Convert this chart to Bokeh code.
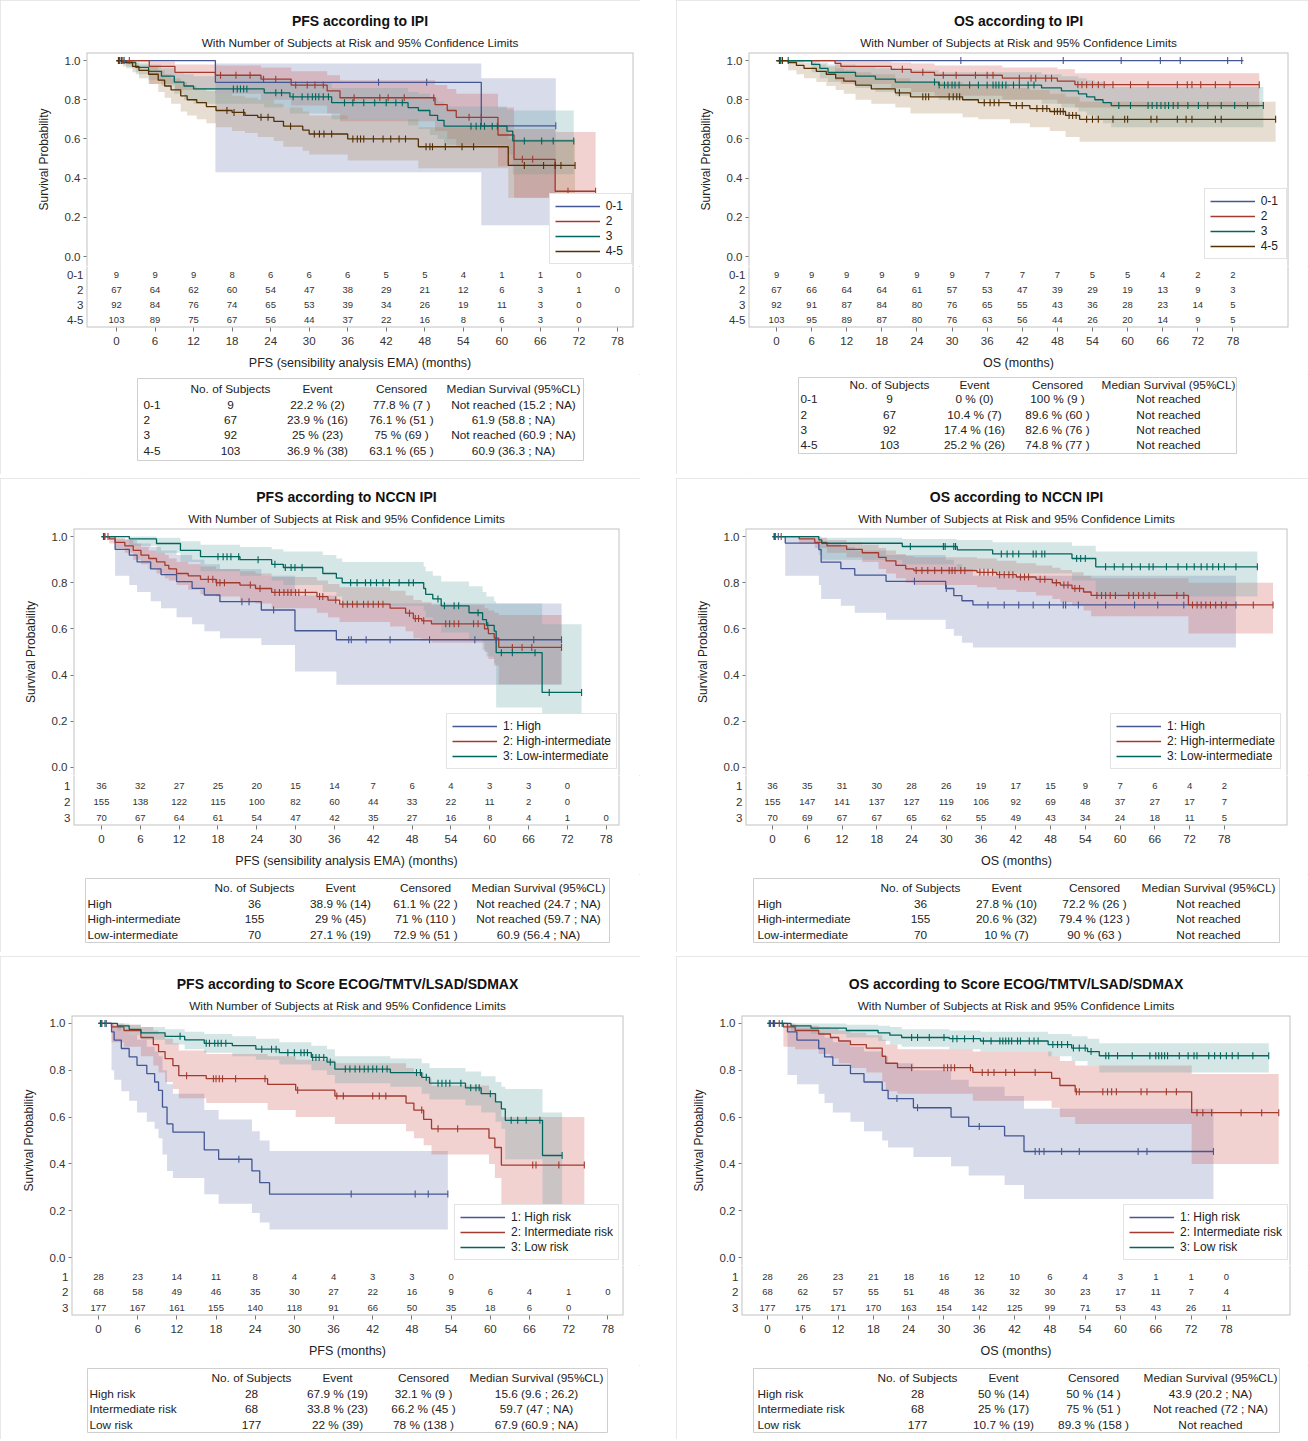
import math
from bokeh.plotting import figure
from bokeh.models import Range1d, FixedTicker, NumeralTickFormatter, Legend, LegendItem, Title
from bokeh.layouts import row, column
from bokeh.embed import file_html
from bokeh.resources import INLINE
from bokeh.core.properties import value

FONT = "Liberation Sans"
TXT = "#333333"
FRAME = "#c2c2c2"
LINE_COLORS = ["#445694", "#A23A2E", "#01665E", "#543005"]
FILL_COLORS = ["#6F7EB3", "#D05B5B", "#66A5A0", "#A9865B"]

RISK_TIMES = [0, 6, 12, 18, 24, 30, 36, 42, 48, 54, 60, 66, 72, 78]
Y_TICKS = [0.0, 0.2, 0.4, 0.6, 0.8, 1.0]
TABLE_HEADER = ["No. of Subjects", "Event", "Censored", "Median Survival (95%CL)"]

# ---------------- Panel 1 : PFS according to IPI ----------------
P1_GROUPS = ["0-1", "2", "3", "4-5"]
P1_G1_T = [0, 15.4, 56.8]
P1_G1_S = [1.0, 0.889, 0.667]
P1_G1_LO = [1.0, 0.43, 0.16]
P1_G1_HI = [1.0, 0.985, 0.91]
P1_G1_END = 68.4
P1_G1_CENS = [0.5, 1.2, 40.8, 48.3, 68.4]
P1_G2_T = [0, 5.1, 9.1, 15.4, 22.5, 27.2, 32.8, 34.8, 49.6, 51.5, 52.9, 59.4, 61.9, 68.3]
P1_G2_S = [1.0, 0.97, 0.94, 0.925, 0.905, 0.875, 0.845, 0.81, 0.775, 0.745, 0.71, 0.62, 0.496, 0.333]
P1_G2_LO = [1.0, 0.88, 0.85, 0.83, 0.80, 0.77, 0.73, 0.69, 0.64, 0.60, 0.56, 0.46, 0.30, 0.07]
P1_G2_HI = [1.0, 0.995, 0.98, 0.975, 0.965, 0.945, 0.925, 0.90, 0.875, 0.855, 0.83, 0.76, 0.65, 0.635]
P1_G2_END = 74.6
P1_G2_CENS = [1.0, 2.0, 16.2, 18.6, 20.8, 22.9, 24.8, 27.9, 29.7, 30.9, 32.2, 37.0, 41.0, 42.3, 44.8, 49.4,
              54.9, 56.8, 63.2, 64.8, 70.3, 74.6]
P1_G3_T = [0, 1.5, 3, 5, 7, 9, 10.5, 12, 23, 27, 33.5, 45.4, 47, 48.8, 50, 51, 60.8, 61.7]
P1_G3_S = [1.0, 0.99, 0.965, 0.945, 0.92, 0.89, 0.87, 0.855, 0.835, 0.815, 0.785, 0.76, 0.745, 0.72, 0.695, 0.665, 0.64, 0.59]
P1_G3_LO = [1.0, 0.96, 0.93, 0.90, 0.87, 0.83, 0.80, 0.78, 0.76, 0.73, 0.70, 0.67, 0.65, 0.62, 0.60, 0.57, 0.52, 0.42]
P1_G3_HI = [1.0, 1.0, 0.99, 0.98, 0.96, 0.94, 0.93, 0.92, 0.90, 0.885, 0.86, 0.84, 0.83, 0.81, 0.79, 0.765, 0.75, 0.745]
P1_G3_END = 71.2
P1_G3_CENS = [0.5, 18.2, 18.8, 19.3, 19.8, 20.3, 24.8, 25.7, 27.5, 28.9, 29.8, 30.5, 31.0, 31.5, 32.2, 33.0,
              35.5, 36.8, 38.5, 40.2, 42.0, 43.5, 44.5, 55.2, 56.0, 56.7, 57.3, 58.5, 59.3, 63.5, 66.2, 68.0, 71.2]
P1_G4_T = [0, 1, 2.5, 3.5, 5, 6.5, 7.5, 8.5, 10, 11, 12.5, 14, 15.5, 18, 20, 22, 24.5, 26, 29, 30, 36, 47, 61]
P1_G4_S = [1.0, 0.99, 0.97, 0.95, 0.93, 0.90, 0.87, 0.85, 0.82, 0.80, 0.785, 0.765, 0.745, 0.735, 0.72, 0.71,
           0.69, 0.665, 0.645, 0.625, 0.60, 0.56, 0.465]
P1_G4_LO = [1.0, 0.97, 0.94, 0.91, 0.88, 0.84, 0.81, 0.78, 0.74, 0.72, 0.70, 0.68, 0.66, 0.64, 0.63, 0.61,
            0.59, 0.56, 0.54, 0.52, 0.49, 0.45, 0.30]
P1_G4_HI = [1.0, 1.0, 0.99, 0.98, 0.97, 0.95, 0.93, 0.91, 0.89, 0.87, 0.86, 0.845, 0.83, 0.82, 0.81, 0.80,
            0.78, 0.76, 0.74, 0.72, 0.70, 0.66, 0.60]
P1_G4_END = 71.4
P1_G4_CENS = [0.3, 0.8, 17.2, 18.3, 19.8, 22.5, 23.6, 27.1, 30.8, 31.6, 32.3, 33.5, 36.8, 37.5, 38.0, 38.5,
              40.0, 41.5, 42.7, 44.0, 45.0, 48.2, 48.8, 49.2, 51.2, 53.8, 55.6, 63.5, 66.5, 68.3, 69.2, 71.4]
P1_RISK_G1 = [9, 9, 9, 8, 6, 6, 6, 5, 5, 4, 1, 1, 0, None]
P1_RISK_G2 = [67, 64, 62, 60, 54, 47, 38, 29, 21, 12, 6, 3, 1, 0]
P1_RISK_G3 = [92, 84, 76, 74, 65, 53, 39, 34, 26, 19, 11, 3, 0, None]
P1_RISK_G4 = [103, 89, 75, 67, 56, 44, 37, 22, 16, 8, 6, 3, 0, None]
P1_TAB_N = [9, 67, 92, 103]
P1_TAB_EVENT = ["22.2 % (2)", "23.9 % (16)", "25 % (23)", "36.9 % (38)"]
P1_TAB_CENS = ["77.8 % (7 )", "76.1 % (51 )", "75 % (69 )", "63.1 % (65 )"]
P1_TAB_MED = ["Not reached (15.2 ; NA)", "61.9 (58.8 ; NA)", "Not reached (60.9 ; NA)", "60.9 (36.3 ; NA)"]

# ---------------- Panel 2 : OS according to IPI ----------------
P2_GROUPS = ["0-1", "2", "3", "4-5"]
P2_G1_T = [0]
P2_G1_S = [1.0]
P2_G1_LO = [1.0]
P2_G1_HI = [1.0]
P2_G1_END = 79.8
P2_G1_CENS = [0.5, 31.5, 49.0, 58.9, 65.6, 69.0, 77.1, 79.5]
P2_G2_T = [0, 10, 11, 19.6, 23, 27, 38.6, 48, 51]
P2_G2_S = [1.0, 0.985, 0.97, 0.955, 0.94, 0.925, 0.91, 0.895, 0.877]
P2_G2_LO = [1.0, 0.90, 0.88, 0.86, 0.84, 0.82, 0.80, 0.78, 0.76]
P2_G2_HI = [1.0, 1.0, 0.995, 0.99, 0.985, 0.975, 0.965, 0.955, 0.935]
P2_G2_END = 82.5
P2_G2_CENS = [1.0, 21.5, 25.0, 28.5, 30.7, 34.0, 36.0, 37.0, 41.5, 43.5, 44.3, 46.0, 47.0, 51.5, 52.2, 53.0,
              54.0, 55.0, 56.0, 57.5, 60.5, 63.5, 68.5, 70.2, 71.0, 72.5, 75.0, 77.5, 82.5]
P2_G3_T = [0, 6, 7.4, 8.8, 13.5, 16.9, 20.3, 27.7, 45.3, 48.7, 51.6, 53, 54.4, 55.8, 57.2]
P2_G3_S = [1.0, 0.98, 0.96, 0.94, 0.92, 0.905, 0.89, 0.875, 0.86, 0.845, 0.83, 0.815, 0.80, 0.785, 0.77]
P2_G3_LO = [1.0, 0.94, 0.91, 0.89, 0.86, 0.84, 0.82, 0.80, 0.78, 0.76, 0.74, 0.72, 0.70, 0.68, 0.66]
P2_G3_HI = [1.0, 1.0, 0.99, 0.98, 0.97, 0.96, 0.95, 0.94, 0.93, 0.92, 0.91, 0.90, 0.89, 0.875, 0.865]
P2_G3_END = 83.2
P2_G3_CENS = [0.7, 2.0, 27.0, 27.8, 28.7, 29.3, 30.0, 30.5, 31.2, 33.0, 34.5, 36.0, 37.0, 37.5, 38.0, 38.6,
              39.2, 40.5, 41.5, 43.0, 44.0, 58.5, 60.5, 63.5, 64.2, 65.0, 65.7, 66.4, 67.0, 67.8, 68.6, 70.3,
              72.1, 73.7, 76.0, 78.3, 80.5, 83.2]
P2_G4_T = [0, 2, 3.4, 4.7, 6.8, 8.5, 10.1, 11.5, 13.5, 16.2, 20.3, 22.9, 31.8, 34.5, 39.9, 43.3, 46.7, 49.4, 51.8]
P2_G4_S = [1.0, 0.99, 0.975, 0.96, 0.945, 0.93, 0.91, 0.895, 0.875, 0.855, 0.835, 0.815, 0.80, 0.785, 0.77,
           0.755, 0.74, 0.72, 0.70]
P2_G4_LO = [1.0, 0.95, 0.93, 0.91, 0.89, 0.87, 0.85, 0.83, 0.80, 0.78, 0.76, 0.73, 0.71, 0.70, 0.68, 0.66,
            0.64, 0.61, 0.585]
P2_G4_HI = [1.0, 1.0, 1.0, 0.99, 0.98, 0.97, 0.96, 0.95, 0.94, 0.93, 0.91, 0.89, 0.88, 0.87, 0.86, 0.85,
            0.83, 0.815, 0.79]
P2_G4_END = 85.3
P2_G4_CENS = [0.5, 1.0, 21.0, 25.0, 25.5, 26.0, 29.5, 30.2, 30.8, 31.3, 35.5, 36.5, 37.2, 38.0, 41.0, 42.0,
              44.5, 45.5, 46.2, 47.5, 48.0, 48.5, 49.0, 50.0, 50.6, 51.2, 53.0, 54.0, 55.0, 57.5, 59.5, 60.0,
              64.0, 65.0, 68.5, 70.0, 71.0, 75.0, 76.0, 85.3]
P2_RISK_G1 = [9, 9, 9, 9, 9, 9, 7, 7, 7, 5, 5, 4, 2, 2]
P2_RISK_G2 = [67, 66, 64, 64, 61, 57, 53, 47, 39, 29, 19, 13, 9, 3]
P2_RISK_G3 = [92, 91, 87, 84, 80, 76, 65, 55, 43, 36, 28, 23, 14, 5]
P2_RISK_G4 = [103, 95, 89, 87, 80, 76, 63, 56, 44, 26, 20, 14, 9, 5]
P2_TAB_N = [9, 67, 92, 103]
P2_TAB_EVENT = ["0 % (0)", "10.4 % (7)", "17.4 % (16)", "25.2 % (26)"]
P2_TAB_CENS = ["100 % (9 )", "89.6 % (60 )", "82.6 % (76 )", "74.8 % (77 )"]
P2_TAB_MED = ["Not reached", "Not reached", "Not reached", "Not reached"]

# ---------------- Panel 3 : PFS according to NCCN IPI ----------------
P3_GROUPS = ["1: High", "2: High-intermediate", "3: Low-intermediate"]
P3_ROWLAB = ["1", "2", "3"]
P3_G1_T = [0, 2.1, 4.3, 5.5, 7.6, 9.2, 11.6, 14.0, 15.9, 18.3, 24.7, 29.9, 36.3]
P3_G1_S = [1.0, 0.945, 0.92, 0.89, 0.86, 0.835, 0.805, 0.776, 0.747, 0.718, 0.682, 0.592, 0.553]
P3_G1_LO = [1.0, 0.83, 0.79, 0.76, 0.72, 0.69, 0.65, 0.62, 0.59, 0.56, 0.53, 0.415, 0.358]
P3_G1_HI = [1.0, 0.99, 0.985, 0.97, 0.955, 0.94, 0.92, 0.90, 0.88, 0.86, 0.83, 0.745, 0.71]
P3_G1_END = 71.1
P3_G1_CENS = [0.5, 21.7, 22.8, 26.6, 38.2, 38.6, 40.9, 44.6, 50.7, 57.7, 61.0, 66.8, 71.1]
P3_G2_T = [0, 1.2, 2.1, 3.6, 4.9, 6.1, 7.3, 8.5, 9.8, 10.4, 11.6, 13.4, 15.3, 17.7, 21.4, 23.8, 26.3, 33.3,
           35.0, 36.8, 44.6, 47.0, 48.2, 49.5, 51.0, 59.2, 59.8, 60.7, 61.4]
P3_G2_S = [1.0, 0.99, 0.975, 0.96, 0.94, 0.92, 0.905, 0.89, 0.875, 0.86, 0.84, 0.83, 0.815, 0.80, 0.79, 0.775,
           0.758, 0.74, 0.725, 0.707, 0.69, 0.668, 0.645, 0.635, 0.622, 0.60, 0.58, 0.56, 0.52]
P3_G2_LO = [1.0, 0.97, 0.95, 0.93, 0.90, 0.88, 0.86, 0.84, 0.82, 0.81, 0.79, 0.77, 0.75, 0.74, 0.72, 0.71,
            0.69, 0.67, 0.65, 0.63, 0.61, 0.59, 0.56, 0.55, 0.54, 0.50, 0.47, 0.44, 0.36]
P3_G2_HI = [1.0, 1.0, 0.995, 0.985, 0.97, 0.955, 0.94, 0.93, 0.92, 0.905, 0.89, 0.88, 0.87, 0.86, 0.85, 0.84,
            0.825, 0.81, 0.795, 0.78, 0.765, 0.745, 0.725, 0.715, 0.705, 0.69, 0.68, 0.67, 0.66]
P3_G2_END = 71.1
P3_G2_CENS = [0.5, 1.0, 16.5, 17.2, 17.8, 18.3, 19.0, 23.0, 24.5, 26.8, 27.5, 28.2, 28.8, 29.3, 30.0, 30.5,
              31.5, 33.7, 34.2, 36.2, 37.3, 38.0, 38.8, 39.5, 40.5, 41.2, 42.0, 42.8, 43.5, 47.6, 48.5, 49.0,
              49.8, 53.2, 53.8, 54.5, 55.2, 57.5, 58.2, 63.5, 65.0, 66.5, 71.1]
P3_G3_T = [0, 4.3, 8.5, 12.2, 15.3, 21.4, 26.3, 28.1, 34.2, 36.3, 37.2, 49.8, 50.1, 51.2, 52.5, 56.8, 58.9,
           59.5, 60.7, 61.0, 68.1]
P3_G3_S = [1.0, 0.99, 0.97, 0.94, 0.913, 0.90, 0.88, 0.866, 0.84, 0.82, 0.80, 0.775, 0.75, 0.73, 0.70, 0.67,
           0.64, 0.615, 0.59, 0.497, 0.325]
P3_G3_LO = [1.0, 0.96, 0.93, 0.89, 0.85, 0.83, 0.81, 0.79, 0.76, 0.74, 0.70, 0.68, 0.65, 0.62, 0.585, 0.55,
            0.51, 0.48, 0.45, 0.26, 0.02]
P3_G3_HI = [1.0, 1.0, 0.995, 0.98, 0.965, 0.955, 0.945, 0.935, 0.92, 0.905, 0.89, 0.87, 0.85, 0.83, 0.805,
            0.785, 0.76, 0.74, 0.72, 0.71, 0.62]
P3_G3_END = 74.2
P3_G3_CENS = [0.3, 18.0, 18.8, 19.4, 20.0, 21.2, 24.2, 26.8, 28.4, 29.3, 29.9, 31.0, 38.5, 39.5, 40.8, 41.6,
              42.5, 43.5, 44.5, 46.0, 47.5, 48.2, 52.0, 53.0, 54.5, 55.2, 58.2, 59.7, 61.8, 63.5, 67.0, 69.2, 74.2]
P3_RISK_G1 = [36, 32, 27, 25, 20, 15, 14, 7, 6, 4, 3, 3, 0, None]
P3_RISK_G2 = [155, 138, 122, 115, 100, 82, 60, 44, 33, 22, 11, 2, 0, None]
P3_RISK_G3 = [70, 67, 64, 61, 54, 47, 42, 35, 27, 16, 8, 4, 1, 0]
P3_TAB_LAB = ["High", "High-intermediate", "Low-intermediate"]
P3_TAB_N = [36, 155, 70]
P3_TAB_EVENT = ["38.9 % (14)", "29 % (45)", "27.1 % (19)"]
P3_TAB_CENS = ["61.1 % (22 )", "71 % (110 )", "72.9 % (51 )"]
P3_TAB_MED = ["Not reached (24.7 ; NA)", "Not reached (59.7 ; NA)", "60.9 (56.4 ; NA)"]

# ---------------- Panel 4 : OS according to NCCN IPI ----------------
P4_GROUPS = ["1: High", "2: High-intermediate", "3: Low-intermediate"]
P4_ROWLAB = ["1", "2", "3"]
P4_G1_T = [0, 2.2, 8.0, 8.4, 11.8, 14.2, 19.6, 29.9, 31.3, 32.7, 34.6]
P4_G1_S = [1.0, 0.972, 0.944, 0.889, 0.861, 0.833, 0.806, 0.775, 0.744, 0.722, 0.704]
P4_G1_LO = [1.0, 0.83, 0.79, 0.73, 0.70, 0.67, 0.64, 0.60, 0.57, 0.54, 0.52]
P4_G1_HI = [1.0, 1.0, 0.99, 0.97, 0.955, 0.94, 0.92, 0.90, 0.88, 0.86, 0.83]
P4_G1_END = 80.0
P4_G1_CENS = [0.3, 1.0, 24.5, 30.0, 37.2, 40.0, 42.5, 45.0, 47.8, 50.2, 50.6, 52.8, 57.5, 62.5, 66.5, 71.0, 80.0]
P4_G2_T = [0, 4.6, 7.3, 9.4, 12.8, 15.5, 18.3, 19.6, 21.3, 23.0, 24.4, 35.3, 38.7, 42.1, 45.5, 48.3, 49.7,
           51.7, 53.7, 55.0, 71.8]
P4_G2_S = [1.0, 0.99, 0.975, 0.96, 0.945, 0.93, 0.91, 0.895, 0.875, 0.86, 0.853, 0.845, 0.835, 0.825, 0.815,
           0.80, 0.79, 0.775, 0.76, 0.745, 0.704]
P4_G2_LO = [1.0, 0.97, 0.95, 0.93, 0.91, 0.89, 0.86, 0.84, 0.82, 0.80, 0.79, 0.78, 0.77, 0.76, 0.745, 0.73,
            0.715, 0.70, 0.68, 0.655, 0.58]
P4_G2_HI = [1.0, 1.0, 0.995, 0.985, 0.975, 0.965, 0.95, 0.94, 0.925, 0.915, 0.91, 0.905, 0.895, 0.885, 0.875,
            0.865, 0.855, 0.845, 0.83, 0.82, 0.80]
P4_G2_END = 86.4
P4_G2_CENS = [0.5, 1.5, 24.8, 25.8, 26.8, 28.0, 29.2, 30.5, 31.0, 31.5, 32.5, 33.2, 35.8, 36.5, 37.2, 38.0,
              39.2, 40.0, 40.8, 41.5, 42.8, 43.5, 44.2, 46.2, 47.0, 49.0, 50.3, 51.0, 52.2, 53.0, 56.0, 56.8,
              57.5, 58.3, 59.2, 61.5, 62.3, 63.2, 64.0, 65.0, 66.0, 69.8, 71.0, 72.5, 73.3, 74.0, 74.8, 75.6,
              76.5, 77.5, 78.3, 83.0, 86.4]
P4_G3_T = [0, 8.0, 8.5, 22.4, 31.9, 38.0, 51.7, 55.8]
P4_G3_S = [1.0, 0.986, 0.971, 0.957, 0.942, 0.925, 0.905, 0.869]
P4_G3_LO = [1.0, 0.92, 0.90, 0.88, 0.86, 0.84, 0.81, 0.74]
P4_G3_HI = [1.0, 1.0, 0.995, 0.99, 0.985, 0.975, 0.96, 0.935]
P4_G3_END = 83.7
P4_G3_CENS = [0.3, 23.8, 29.5, 29.8, 31.3, 31.6, 39.5, 40.5, 41.5, 42.5, 45.0, 45.5, 46.5, 47.0, 52.5, 53.2,
              54.0, 57.5, 59.0, 60.5, 62.0, 63.5, 65.0, 65.7, 68.0, 70.0, 71.5, 72.8, 74.0, 75.0, 76.0, 77.0,
              78.0, 80.0, 83.7]
P4_RISK_G1 = [36, 35, 31, 30, 28, 26, 19, 17, 15, 9, 7, 6, 4, 2]
P4_RISK_G2 = [155, 147, 141, 137, 127, 119, 106, 92, 69, 48, 37, 27, 17, 7]
P4_RISK_G3 = [70, 69, 67, 67, 65, 62, 55, 49, 43, 34, 24, 18, 11, 5]
P4_TAB_LAB = ["High", "High-intermediate", "Low-intermediate"]
P4_TAB_N = [36, 155, 70]
P4_TAB_EVENT = ["27.8 % (10)", "20.6 % (32)", "10 % (7)"]
P4_TAB_CENS = ["72.2 % (26 )", "79.4 % (123 )", "90 % (63 )"]
P4_TAB_MED = ["Not reached", "Not reached", "Not reached"]

# ---------------- Panel 5 : PFS according to Score ----------------
P5_GROUPS = ["1: High risk", "2: Intermediate risk", "3: Low risk"]
P5_ROWLAB = ["1", "2", "3"]
P5_G1_T = [0, 2.0, 2.4, 3.5, 4.7, 5.9, 7.4, 8.6, 9.2, 9.8, 10.5, 11.4, 16.2, 18.4, 23.5, 24.7, 26.2]
P5_G1_S = [1.0, 0.964, 0.929, 0.893, 0.857, 0.821, 0.786, 0.75, 0.714, 0.643, 0.571, 0.536, 0.46, 0.42,
           0.37, 0.32, 0.271]
P5_G1_LO = [1.0, 0.80, 0.76, 0.71, 0.67, 0.62, 0.58, 0.55, 0.51, 0.44, 0.37, 0.34, 0.27, 0.23, 0.19, 0.15, 0.12]
P5_G1_HI = [1.0, 1.0, 0.99, 0.97, 0.95, 0.93, 0.90, 0.88, 0.86, 0.80, 0.74, 0.70, 0.63, 0.59, 0.54, 0.50, 0.455]
P5_G1_END = 53.5
P5_G1_CENS = [0.5, 1.2, 21.5, 38.7, 48.5, 50.5, 53.5]
P5_G2_T = [0, 2.0, 3.9, 6.5, 8.4, 9.2, 10.2, 11.4, 12.3, 16.5, 25.9, 30.2, 36.2, 47.1, 48.3, 49.8, 51.0,
           59.8, 60.7, 61.7]
P5_G2_S = [1.0, 0.985, 0.97, 0.94, 0.91, 0.88, 0.85, 0.82, 0.777, 0.764, 0.74, 0.715, 0.69, 0.66, 0.63, 0.59,
           0.55, 0.51, 0.47, 0.395]
P5_G2_LO = [1.0, 0.92, 0.90, 0.86, 0.82, 0.79, 0.75, 0.72, 0.68, 0.66, 0.63, 0.60, 0.57, 0.54, 0.51, 0.48,
            0.44, 0.40, 0.34, 0.19]
P5_G2_HI = [1.0, 1.0, 0.995, 0.985, 0.97, 0.955, 0.935, 0.915, 0.885, 0.87, 0.86, 0.845, 0.83, 0.81, 0.79,
            0.765, 0.735, 0.70, 0.665, 0.60]
P5_G2_END = 74.4
P5_G2_CENS = [0.5, 13.5, 17.6, 18.0, 18.5, 19.0, 21.0, 25.5, 30.5, 36.5, 37.5, 42.0, 43.0, 44.0, 49.5, 52.0,
              55.0, 66.5, 67.0, 70.5, 74.4]
P5_G3_T = [0, 2.9, 4.7, 6.5, 10.2, 13.2, 16.2, 20.5, 24.1, 27.7, 32.6, 35.0, 36.2, 44.7, 49.5, 50.7, 56.2,
           58.6, 60.8, 61.7, 62.3, 68.0]
P5_G3_S = [1.0, 0.99, 0.975, 0.96, 0.945, 0.93, 0.915, 0.905, 0.89, 0.875, 0.855, 0.835, 0.805, 0.79, 0.77,
           0.745, 0.725, 0.70, 0.665, 0.635, 0.586, 0.436]
P5_G3_LO = [1.0, 0.97, 0.95, 0.93, 0.91, 0.89, 0.875, 0.86, 0.845, 0.825, 0.80, 0.78, 0.745, 0.73, 0.70,
            0.675, 0.65, 0.62, 0.58, 0.55, 0.42, 0.20]
P5_G3_HI = [1.0, 1.0, 0.995, 0.985, 0.975, 0.965, 0.955, 0.945, 0.935, 0.92, 0.905, 0.89, 0.86, 0.85, 0.83,
            0.81, 0.795, 0.775, 0.75, 0.73, 0.72, 0.62]
P5_G3_END = 71.0
P5_G3_CENS = [0.3, 1.0, 12.5, 16.5, 17.0, 17.8, 18.3, 18.8, 19.5, 25.0, 26.5, 27.2, 29.0, 30.0, 31.0, 31.5,
              32.0, 32.8, 33.3, 33.8, 34.5, 35.5, 37.8, 38.5, 39.3, 40.0, 40.7, 41.3, 42.0, 42.6, 43.5, 44.2,
              48.7, 49.3, 50.2, 52.0, 52.6, 53.2, 53.8, 55.5, 57.0, 57.8, 58.3, 60.0, 63.2, 64.2, 65.5, 67.6, 71.0]
P5_RISK_G1 = [28, 23, 14, 11, 8, 4, 4, 3, 3, 0, None, None, None, None]
P5_RISK_G2 = [68, 58, 49, 46, 35, 30, 27, 22, 16, 9, 6, 4, 1, 0]
P5_RISK_G3 = [177, 167, 161, 155, 140, 118, 91, 66, 50, 35, 18, 6, 0, None]
P5_TAB_LAB = ["High risk", "Intermediate risk", "Low risk"]
P5_TAB_N = [28, 68, 177]
P5_TAB_EVENT = ["67.9 % (19)", "33.8 % (23)", "22 % (39)"]
P5_TAB_CENS = ["32.1 % (9 )", "66.2 % (45 )", "78 % (138 )"]
P5_TAB_MED = ["15.6 (9.6 ; 26.2)", "59.7 (47 ; NA)", "67.9 (60.9 ; NA)"]

# ---------------- Panel 6 : OS according to Score ----------------
P6_GROUPS = ["1: High risk", "2: Intermediate risk", "3: Low risk"]
P6_ROWLAB = ["1", "2", "3"]
P6_G1_T = [0, 3.4, 5.0, 8.7, 9.7, 11.1, 14.1, 16.4, 19.5, 20.5, 24.8, 31.2, 34.2, 40.3, 43.6]
P6_G1_S = [1.0, 0.964, 0.929, 0.893, 0.857, 0.821, 0.786, 0.75, 0.714, 0.679, 0.64, 0.60, 0.56, 0.52, 0.453]
P6_G1_LO = [1.0, 0.78, 0.74, 0.70, 0.66, 0.62, 0.58, 0.54, 0.50, 0.47, 0.43, 0.39, 0.35, 0.31, 0.25]
P6_G1_HI = [1.0, 0.995, 0.98, 0.96, 0.94, 0.92, 0.90, 0.88, 0.86, 0.83, 0.80, 0.76, 0.73, 0.69, 0.636]
P6_G1_END = 75.8
P6_G1_CENS = [0.5, 1.2, 22.0, 25.5, 36.0, 45.5, 46.2, 47.0, 50.0, 53.0, 63.0, 64.5, 75.8]
P6_G2_T = [0, 2.7, 4.7, 8.7, 10.7, 12.1, 14.1, 16.8, 19.5, 20.1, 22.1, 34.9, 48.3, 49.7, 52.3, 72.1]
P6_G2_S = [1.0, 0.985, 0.97, 0.955, 0.94, 0.925, 0.91, 0.895, 0.86, 0.83, 0.811, 0.791, 0.765, 0.735, 0.708, 0.619]
P6_G2_LO = [1.0, 0.90, 0.89, 0.87, 0.85, 0.83, 0.81, 0.79, 0.75, 0.71, 0.70, 0.67, 0.64, 0.60, 0.57, 0.40]
P6_G2_HI = [1.0, 1.0, 0.99, 0.985, 0.98, 0.97, 0.96, 0.95, 0.93, 0.91, 0.89, 0.88, 0.86, 0.84, 0.82, 0.784]
P6_G2_END = 86.9
P6_G2_CENS = [1.0, 2.0, 24.5, 30.0, 30.6, 31.2, 31.8, 34.5, 36.5, 37.5, 38.5, 40.5, 42.0, 45.5, 52.5, 53.0,
              57.0, 57.8, 58.5, 59.3, 63.5, 64.5, 67.8, 69.5, 73.0, 74.0, 75.5, 80.5, 84.0, 86.9]
P6_G3_T = [0, 4.0, 7.4, 13.4, 18.8, 20.8, 22.8, 30.9, 36.2, 47.7, 51.7, 54.4, 56.4]
P6_G3_S = [1.0, 0.99, 0.98, 0.97, 0.96, 0.95, 0.94, 0.935, 0.925, 0.91, 0.895, 0.88, 0.862]
P6_G3_LO = [1.0, 0.97, 0.955, 0.94, 0.925, 0.91, 0.90, 0.89, 0.88, 0.86, 0.84, 0.82, 0.79]
P6_G3_HI = [1.0, 1.0, 1.0, 0.995, 0.99, 0.985, 0.975, 0.97, 0.965, 0.955, 0.945, 0.935, 0.915]
P6_G3_END = 85.2
P6_G3_CENS = [0.3, 1.0, 2.5, 24.5, 25.5, 27.5, 30.0, 31.5, 32.2, 33.5, 35.0, 36.7, 38.0, 39.5, 40.0, 40.5,
              41.0, 41.5, 42.5, 43.0, 44.5, 45.3, 46.0, 48.5, 49.3, 50.0, 51.0, 52.0, 53.0, 54.0, 55.0, 57.5,
              58.0, 59.5, 62.0, 65.0, 66.0, 66.5, 67.0, 67.5, 68.0, 70.0, 71.5, 72.5, 73.0, 75.0, 76.0, 77.0,
              78.0, 79.0, 80.0, 82.5, 85.2]
P6_RISK_G1 = [28, 26, 23, 21, 18, 16, 12, 10, 6, 4, 3, 1, 1, 0]
P6_RISK_G2 = [68, 62, 57, 55, 51, 48, 36, 32, 30, 23, 17, 11, 7, 4]
P6_RISK_G3 = [177, 175, 171, 170, 163, 154, 142, 125, 99, 71, 53, 43, 26, 11]
P6_TAB_LAB = ["High risk", "Intermediate risk", "Low risk"]
P6_TAB_N = [28, 68, 177]
P6_TAB_EVENT = ["50 % (14)", "25 % (17)", "10.7 % (19)"]
P6_TAB_CENS = ["50 % (14 )", "75 % (51 )", "89.3 % (158 )"]
P6_TAB_MED = ["43.9 (20.2 ; NA)", "Not reached (72 ; NA)", "Not reached"]


def curve(t, s, lo, hi, end, cens):
    return dict(t=t, s=s, lo=lo, hi=hi, end=end, cens=cens)


CHAR_W = {"0": .556, "1": .556, "2": .556, "3": .556, "4": .556, "5": .556, "6": .556, "7": .556, "8": .556,
          "9": .556, ":": .278, " ": .278, "-": .333, "H": .722, "I": .278, "L": .556, "a": .556, "d": .556,
          "e": .556, "g": .556, "h": .556, "i": .222, "k": .5, "m": .833, "n": .556, "o": .556, "r": .333,
          "s": .5, "t": .278, "w": .722}

LEG_FS = 12


def text_w(s, size):
    return sum(CHAR_W.get(ch, 0.55) for ch in s) * size


def step_at(t, s, c):
    v = s[0]
    for ti, si in zip(t, s):
        if ti <= c:
            v = si
    return v


def style_axis_common(ax):
    ax.major_label_text_font = FONT
    ax.major_label_text_font_size = "11.5px"
    ax.major_label_text_color = TXT
    ax.axis_line_color = None
    ax.minor_tick_line_color = None
    ax.major_tick_in = 0


def km_figures(sp):
    W = sp["w"]
    mbl, mbr = sp["mb"]
    x0, x1 = sp["xr"]
    xr = Range1d(x0, x1)
    ytop, ysplit = sp["yr"]
    # ---------- survival curve area ----------
    p = figure(width=W, height=sp["km_h"], x_range=xr, y_range=Range1d(ysplit, ytop),
               output_backend="svg", toolbar_location=None, title=None, x_axis_location=None,
               min_border_left=mbl, min_border_right=mbr, min_border_top=sp["mbt"], min_border_bottom=0,
               outline_line_color=None, background_fill_color="white", border_fill_color="white")
    for g in p.grid:
        g.visible = False
    p.add_layout(Title(text="With Number of Subjects at Risk and 95% Confidence Limits", align="center",
                       text_font=FONT, text_font_size="11.8px", text_font_style="normal",
                       text_color="#222222", standoff=6), "above")
    p.add_layout(Title(text=sp["title"], align="center", text_font=FONT, text_font_size="14px",
                       text_font_style="bold", text_color="#111111", standoff=3), "above")
    ay = p.yaxis[0]
    style_axis_common(ay)
    ay.ticker = FixedTicker(ticks=Y_TICKS)
    ay.formatter = NumeralTickFormatter(format="0.0")
    ay.major_label_standoff = 3
    ay.major_tick_line_color = "#777777"
    ay.major_tick_out = 3
    ay.axis_label = "Survival Probability"
    ay.axis_label_text_font = FONT
    ay.axis_label_text_font_size = "12px"
    ay.axis_label_text_font_style = "normal"
    ay.axis_label_text_color = "#222222"
    ay.axis_label_standoff = 11

    # frame: top, left, right edges (bottom continues into the risk table)
    p.quad(left=[x0], right=[x1], bottom=[ysplit - 1.0], top=[ytop], fill_alpha=0,
           line_color=FRAME, line_width=2)

    curves = sp["curves"]
    for i, c in enumerate(curves):
        xs = c["t"] + [c["end"]]
        p.varea_step(x=xs, y1=c["lo"] + [c["lo"][-1]], y2=c["hi"] + [c["hi"][-1]], step_mode="after",
                     fill_color=FILL_COLORS[i], fill_alpha=0.28)
    line_renderers = []
    for i, c in enumerate(curves):
        xs = c["t"] + [c["end"]]
        r = p.step(x=xs, y=c["s"] + [c["s"][-1]], mode="after", line_color=LINE_COLORS[i], line_width=1.3)
        line_renderers.append(r)
    for i, c in enumerate(curves):
        cy = [step_at(c["t"], c["s"], v) for v in c["cens"]]
        p.scatter(x=c["cens"], y=cy, marker="dash", angle=math.pi / 2, size=7,
                  line_color=LINE_COLORS[i], line_width=1.1)

    glyph_w, pad, stand = 45, 5, 6
    lw = 2 * pad + glyph_w + stand + max(text_w(g, LEG_FS) for g in sp["groups"])
    frame_w = W - mbl - mbr
    frame_h = sp["km_h"] - sp["mbt"]
    lx = frame_w - lw - sp["leg_gap"]
    ly = (sp["leg_bottom"] - ysplit) / (ytop - ysplit) * frame_h
    items = [LegendItem(label=g, renderers=[r]) for g, r in zip(sp["groups"], line_renderers)]
    leg = Legend(items=items, location=(lx, ly), label_text_font=FONT, label_text_font_size=f"{LEG_FS}px",
                 label_text_color="#222222", glyph_width=glyph_w, glyph_height=14, label_height=14,
                 label_standoff=stand, padding=pad, spacing=1, margin=0, border_line_color="#c8c8c8",
                 background_fill_color="white", background_fill_alpha=1.0)
    p.add_layout(leg)

    # ---------- number-at-risk area (same frame, continued) ----------
    nrow = len(sp["risk"])
    hr, d0, ds = sp["risk_frame"]
    v_top = 1 - d0 / ds
    v_bot = 1 + (hr - d0) / ds
    q = figure(width=W, height=hr + sp["mbb"], x_range=xr, y_range=Range1d(v_bot, v_top),
               output_backend="svg", toolbar_location=None, min_border_left=mbl, min_border_right=mbr,
               min_border_top=0, min_border_bottom=sp["mbb"], outline_line_color=None,
               background_fill_color="white", border_fill_color="white")
    for g in q.grid:
        g.visible = False
    q.quad(left=[x0], right=[x1], bottom=[v_bot], top=[v_top - 5.0], fill_alpha=0,
           line_color=FRAME, line_width=2)
    ry = q.yaxis[0]
    style_axis_common(ry)
    ry.ticker = FixedTicker(ticks=list(range(1, nrow + 1)))
    ry.major_label_overrides = {i + 1: lab for i, lab in enumerate(sp["rowlab"])}
    ry.major_tick_out = 0
    ry.major_tick_line_color = None
    ry.major_label_standoff = 3
    for gi, vals in enumerate(sp["risk"]):
        xs = [t for t, v in zip(RISK_TIMES, vals) if v is not None]
        tx = [str(v) for v in vals if v is not None]
        q.text(x=xs, y=[gi + 1] * len(xs), text=tx, text_align="center", text_baseline="middle",
               text_font=value(FONT), text_font_size=value("9.5px"), text_color="#333333")
    ax = q.xaxis[0]
    style_axis_common(ax)
    ax.ticker = FixedTicker(ticks=RISK_TIMES)
    ax.axis_label = sp["xlabel"]
    ax.axis_label_text_font = FONT
    ax.axis_label_text_font_size = "12.5px"
    ax.axis_label_text_font_style = "normal"
    ax.axis_label_text_color = "#222222"
    ax.axis_label_standoff = 8
    ax.major_label_standoff = 5
    ax.major_tick_line_color = "#777777"
    ax.major_tick_out = 4
    return p, q


def table_figure(tb, mb):
    # the layout aligns this frame with the plot frames above it, so the
    # x range is set to the frame's pixel span inside the panel
    W, H = tb["w"], tb["h"]
    mbl, mbr = mb
    t = figure(width=W, height=H, x_range=Range1d(mbl, W - mbr), y_range=Range1d(H, 0), output_backend="svg",
               toolbar_location=None, min_border=0, min_border_left=mbl, min_border_right=mbr,
               x_axis_location=None, y_axis_location=None,
               outline_line_color=None, background_fill_color="white", border_fill_color="white")
    for g in t.grid:
        g.visible = False
    L, R = tb["box"]
    t.quad(left=[L], right=[R], top=[tb["top"]], bottom=[tb["bottom"]], fill_alpha=0,
           line_color="#cfcfcf", line_width=1)
    cx = tb["cols"]
    fnt = dict(text_font=value(FONT), text_font_size=value("11.8px"), text_color="#222222",
               text_baseline="middle")
    t.text(x=cx[1:], y=[tb["header"]] * 4, text=TABLE_HEADER, text_align="center", **fnt)
    ry = tb["rows"]
    t.text(x=[cx[0]] * len(ry), y=ry, text=tb["labels"], text_align="left", **fnt)
    t.text(x=[cx[1]] * len(ry), y=ry, text=[str(v) for v in tb["n"]], text_align="center", **fnt)
    t.text(x=[cx[2]] * len(ry), y=ry, text=tb["event"], text_align="center", **fnt)
    t.text(x=[cx[3]] * len(ry), y=ry, text=tb["cens"], text_align="center", **fnt)
    t.text(x=[cx[4]] * len(ry), y=ry, text=tb["med"], text_align="center", **fnt)
    return t


# row geometry: km_h (titles + curve frame), mbt, y range (top, split), risk frame (height, first row, spacing), mbb
ROW1 = dict(km_h=266, mbt=52, yr=(1.041, -0.051), risk_frame=(61, 8, 15.2), mbb=47)
ROW2 = dict(km_h=297, mbt=50, yr=(1.035, -0.035), risk_frame=(50, 10, 16.0), mbb=49)
ROW3 = dict(km_h=309, mbt=59, yr=(1.034, -0.034), risk_frame=(50, 11, 15.5), mbb=50)

WL, WR = 640, 632

specs = [
    dict(title="PFS according to IPI", xlabel="PFS (sensibility analysis EMA) (months)", w=WL,
         mb=(86, 7), xr=(-4.67, 80.5), groups=P1_GROUPS, rowlab=P1_GROUPS,
         curves=[curve(P1_G1_T, P1_G1_S, P1_G1_LO, P1_G1_HI, P1_G1_END, P1_G1_CENS),
                 curve(P1_G2_T, P1_G2_S, P1_G2_LO, P1_G2_HI, P1_G2_END, P1_G2_CENS),
                 curve(P1_G3_T, P1_G3_S, P1_G3_LO, P1_G3_HI, P1_G3_END, P1_G3_CENS),
                 curve(P1_G4_T, P1_G4_S, P1_G4_LO, P1_G4_HI, P1_G4_END, P1_G4_CENS)],
         risk=[P1_RISK_G1, P1_RISK_G2, P1_RISK_G3, P1_RISK_G4], leg_gap=6, leg_bottom=-0.04, **ROW1),
    dict(title="OS according to IPI", xlabel="OS (months)", w=WR,
         mb=(72, 20), xr=(-4.79, 87.5), groups=P2_GROUPS, rowlab=P2_GROUPS,
         curves=[curve(P2_G1_T, P2_G1_S, P2_G1_LO, P2_G1_HI, P2_G1_END, P2_G1_CENS),
                 curve(P2_G2_T, P2_G2_S, P2_G2_LO, P2_G2_HI, P2_G2_END, P2_G2_CENS),
                 curve(P2_G3_T, P2_G3_S, P2_G3_LO, P2_G3_HI, P2_G3_END, P2_G3_CENS),
                 curve(P2_G4_T, P2_G4_S, P2_G4_LO, P2_G4_HI, P2_G4_END, P2_G4_CENS)],
         risk=[P2_RISK_G1, P2_RISK_G2, P2_RISK_G3, P2_RISK_G4], leg_gap=6, leg_bottom=-0.015, **ROW1),
    dict(title="PFS according to NCCN IPI", xlabel="PFS (sensibility analysis EMA) (months)", w=WL,
         mb=(73, 21), xr=(-4.33, 80.06), groups=P3_GROUPS, rowlab=P3_ROWLAB,
         curves=[curve(P3_G1_T, P3_G1_S, P3_G1_LO, P3_G1_HI, P3_G1_END, P3_G1_CENS),
                 curve(P3_G2_T, P3_G2_S, P3_G2_LO, P3_G2_HI, P3_G2_END, P3_G2_CENS),
                 curve(P3_G3_T, P3_G3_S, P3_G3_LO, P3_G3_HI, P3_G3_END, P3_G3_CENS)],
         risk=[P3_RISK_G1, P3_RISK_G2, P3_RISK_G3], leg_gap=4, leg_bottom=-0.01, **ROW2),
    dict(title="OS according to NCCN IPI", xlabel="OS (months)", w=WR,
         mb=(69, 21), xr=(-4.66, 88.9), groups=P4_GROUPS, rowlab=P4_ROWLAB,
         curves=[curve(P4_G1_T, P4_G1_S, P4_G1_LO, P4_G1_HI, P4_G1_END, P4_G1_CENS),
                 curve(P4_G2_T, P4_G2_S, P4_G2_LO, P4_G2_HI, P4_G2_END, P4_G2_CENS),
                 curve(P4_G3_T, P4_G3_S, P4_G3_LO, P4_G3_HI, P4_G3_END, P4_G3_CENS)],
         risk=[P4_RISK_G1, P4_RISK_G2, P4_RISK_G3], leg_gap=8, leg_bottom=-0.01, **ROW2),
    dict(title="PFS according to Score ECOG/TMTV/LSAD/SDMAX", xlabel="PFS (months)", w=WL,
         mb=(71, 17), xr=(-4.13, 80.4), groups=P5_GROUPS, rowlab=P5_ROWLAB,
         curves=[curve(P5_G1_T, P5_G1_S, P5_G1_LO, P5_G1_HI, P5_G1_END, P5_G1_CENS),
                 curve(P5_G2_T, P5_G2_S, P5_G2_LO, P5_G2_HI, P5_G2_END, P5_G2_CENS),
                 curve(P5_G3_T, P5_G3_S, P5_G3_LO, P5_G3_HI, P5_G3_END, P5_G3_CENS)],
         risk=[P5_RISK_G1, P5_RISK_G2, P5_RISK_G3], leg_gap=6, leg_bottom=-0.013, **ROW3),
    dict(title="OS according to Score ECOG/TMTV/LSAD/SDMAX", xlabel="OS (months)", w=WR,
         mb=(65, 18), xr=(-4.42, 88.9), groups=P6_GROUPS, rowlab=P6_ROWLAB,
         curves=[curve(P6_G1_T, P6_G1_S, P6_G1_LO, P6_G1_HI, P6_G1_END, P6_G1_CENS),
                 curve(P6_G2_T, P6_G2_S, P6_G2_LO, P6_G2_HI, P6_G2_END, P6_G2_CENS),
                 curve(P6_G3_T, P6_G3_S, P6_G3_LO, P6_G3_HI, P6_G3_END, P6_G3_CENS)],
         risk=[P6_RISK_G1, P6_RISK_G2, P6_RISK_G3], leg_gap=4, leg_bottom=-0.013, **ROW3),
]

tables = [
    dict(w=WL, h=100, box=(137, 583), top=4, bottom=86, header=14, rows=[30, 45, 60, 76],
         cols=[143, 230, 317, 401, 513], labels=P1_GROUPS, n=P1_TAB_N, event=P1_TAB_EVENT,
         cens=P1_TAB_CENS, med=P1_TAB_MED),
    dict(w=WR, h=100, box=(122, 560), top=3, bottom=79, header=10, rows=[24, 40, 55, 70],
         cols=[124, 213, 298, 381, 492], labels=P2_GROUPS, n=P2_TAB_N, event=P2_TAB_EVENT,
         cens=P2_TAB_CENS, med=P2_TAB_MED),
    dict(w=WL, h=78, box=(85, 609), top=4, bottom=68, header=13, rows=[29, 44, 60],
         cols=[87, 254, 340, 425, 538], labels=P3_TAB_LAB, n=P3_TAB_N, event=P3_TAB_EVENT,
         cens=P3_TAB_CENS, med=P3_TAB_MED),
    dict(w=WR, h=78, box=(77, 603), top=4, bottom=68, header=13, rows=[29, 44, 60],
         cols=[81, 244, 330, 418, 532], labels=P4_TAB_LAB, n=P4_TAB_N, event=P4_TAB_EVENT,
         cens=P4_TAB_CENS, med=P4_TAB_MED),
    dict(w=WL, h=74, box=(87, 607), top=3, bottom=67, header=12, rows=[28, 43, 59],
         cols=[89, 251, 337, 423, 536], labels=P5_TAB_LAB, n=P5_TAB_N, event=P5_TAB_EVENT,
         cens=P5_TAB_CENS, med=P5_TAB_MED),
    dict(w=WR, h=74, box=(77, 603), top=3, bottom=67, header=12, rows=[28, 43, 59],
         cols=[81, 241, 327, 417, 534], labels=P6_TAB_LAB, n=P6_TAB_N, event=P6_TAB_EVENT,
         cens=P6_TAB_CENS, med=P6_TAB_MED),
]

panels = []
for s, tb in zip(specs, tables):
    p_km, p_risk = km_figures(s)
    panels.append(column(p_km, p_risk, table_figure(tb, s["mb"]), spacing=0,
                         styles={"outline": "1px solid #e0e0e0", "outline-offset": "-1px"}))

layout = column(row(panels[0], panels[1], spacing=36),
                row(panels[2], panels[3], spacing=36),
                row(panels[4], panels[5], spacing=36), spacing=4)

open("out.html", "w").write(file_html(layout, INLINE))
